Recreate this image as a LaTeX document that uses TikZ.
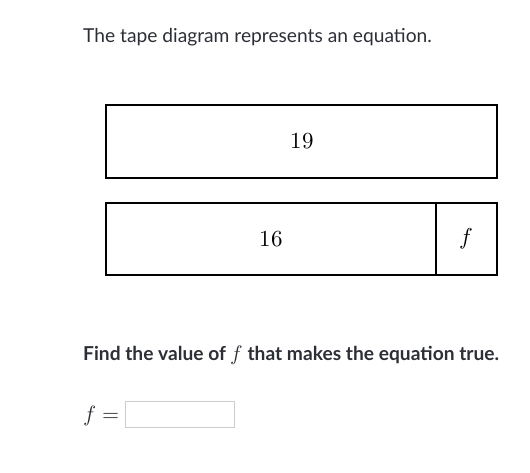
\documentclass[tikz,border=0pt]{standalone}
\usepackage{fontspec}
\usepackage{unicode-math}
\setmainfont{Lato}
\setmathfont{Latin Modern Math}
\definecolor{inkgray}{HTML}{2D2F36}
\definecolor{boxgray}{HTML}{CCCCCC}

\begin{document}
\begin{tikzpicture}[x = 1pt, y = -1pt,
    tape/.style = {draw = black, line width = 2.6pt},
    tapetext/.style = {font = \fontsize{23}{26}\selectfont},
    say/.style = {anchor = base west, inner sep = 0pt, text = inkgray, font = \fontsize{19.2}{24}\selectfont}]
    \useasboundingbox (0,0) rectangle (530,472);
    \node[say] (title) at (83,42) {The tape diagram represents an equation.};
    \draw[tape] (106,105) rectangle (497,178);
    \draw[tape] (106,203) rectangle (497,275);
    \draw[line width = 2pt] (436,203) -- (436,275);
    \node[tapetext] (whole) at (302,141) {$19$};
    \node[tapetext] (part) at (271,239) {$16$};
    \node[tapetext] (unknown) at (466,239) {$f$};
    \node[say, font = \fontsize{19.2}{24}\selectfont\bfseries] (ask) at (83,360) {Find the value of {\fontsize{21}{24}\selectfont$f$} that makes the equation true.};
    \node[say, font = \fontsize{22}{26}\selectfont] (lhs) at (83,421) {$f =$};
    \draw[boxgray, line width = 1pt] (125,401) rectangle (234,427);
\end{tikzpicture}
\end{document}
